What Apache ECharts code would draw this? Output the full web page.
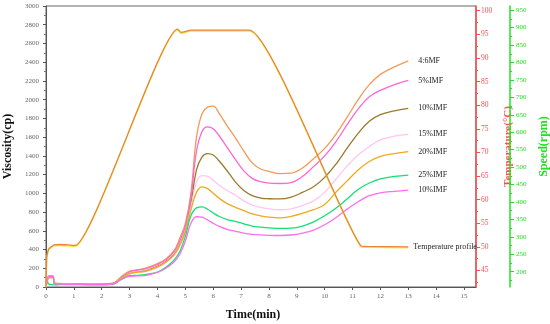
<!DOCTYPE html>
<html>
<head>
<meta charset="utf-8">
<script src="https://cdn.jsdelivr.net/npm/echarts@6/dist/echarts.min.js"></script>
<style>html,body{margin:0;padding:0;background:#fff}#c{width:550px;height:324px}</style>
</head>
<body>
<div id="c"></div>
<script>
// ---- data ----
var times = [0, 0.05, 0.1, 0.25, 0.3, 0.5, 1, 1.5, 2, 2.4, 2.7, 3, 3.3, 3.6, 4, 4.3, 4.6, 4.8, 5, 5.2, 5.4, 5.6, 5.8, 6, 6.2, 6.5, 6.8, 7.1, 7.4, 7.7, 8, 8.4, 8.8, 9.2, 9.6, 10, 10.4, 10.8, 11.2, 11.6, 12, 12.5, 13];
var mf46   = [0, 80, 110, 110, 45, 38, 35, 33, 33, 40, 110, 170, 185, 205, 250, 300, 390, 520, 680, 1000, 1600, 1850, 1920, 1930, 1860, 1720, 1590, 1450, 1325, 1260, 1235, 1210, 1215, 1270, 1370, 1480, 1630, 1810, 2000, 2160, 2270, 2350, 2415];
var imf5   = [0, 80, 115, 115, 40, 35, 32, 30, 30, 38, 100, 160, 180, 195, 240, 290, 380, 490, 650, 960, 1450, 1660, 1710, 1690, 1620, 1490, 1360, 1240, 1160, 1125, 1110, 1105, 1115, 1180, 1285, 1400, 1550, 1730, 1900, 2030, 2100, 2160, 2205];
var imf10a = [0, 70, 100, 100, 38, 33, 30, 28, 28, 35, 90, 140, 160, 175, 220, 270, 350, 450, 600, 880, 1250, 1390, 1425, 1410, 1350, 1240, 1120, 1030, 975, 950, 942, 940, 960, 1010, 1070, 1170, 1310, 1480, 1640, 1770, 1840, 1880, 1907];
var imf15  = [0, 70, 100, 100, 36, 32, 30, 28, 28, 34, 90, 140, 155, 170, 210, 260, 340, 440, 590, 850, 1120, 1190, 1180, 1140, 1090, 1030, 980, 920, 875, 850, 835, 825, 835, 870, 920, 1010, 1150, 1290, 1410, 1500, 1570, 1610, 1630];
var imf20  = [0, 70, 100, 100, 36, 32, 30, 28, 28, 34, 95, 145, 160, 170, 215, 265, 345, 445, 590, 820, 1010, 1070, 1050, 1000, 950, 890, 850, 815, 780, 760, 745, 738, 755, 785, 825, 880, 1010, 1130, 1250, 1340, 1395, 1425, 1445];
var imf25  = [0, 60, 30, 25, 22, 25, 25, 24, 24, 30, 80, 120, 125, 135, 160, 210, 290, 380, 540, 760, 845, 855, 830, 790, 755, 720, 700, 675, 650, 640, 632, 625, 628, 650, 695, 760, 840, 940, 1040, 1110, 1155, 1180, 1195];
var imf10b = [0, 80, 118, 118, 35, 30, 28, 26, 26, 32, 80, 115, 118, 125, 155, 200, 270, 350, 490, 680, 750, 745, 715, 680, 650, 615, 595, 575, 562, 556, 552, 550, 555, 575, 608, 665, 740, 830, 910, 975, 1005, 1022, 1035];
var tempTimes = [0, 0.03, 0.1, 0.3, 0.5, 0.8, 1.05, 4.72, 4.85, 5.2, 7.3, 11.3, 11.5, 13];
var tempVals  = [41.6, 48, 49.6, 50.4, 50.5, 50.4, 50.3, 96.1, 95.4, 95.9, 95.9, 50.2, 50.1, 50.0];
var xTicks = [0,1,2,3,4,5,6,7,8,9,10,11,12,13,14,15];
var tempTicks = [45,50,55,60,65,70,75,80,85,90,95,100];
var tempMinor = [42.5,47.5,52.5,57.5,62.5,67.5,72.5,77.5,82.5,87.5,92.5,97.5];
var speedTicks = [200,250,300,350,400,450,500,550,600,650,700,750,800,850,900,950];
var speedMinor = [175,225,275,325,375,425,475,525,575,625,675,725,775,825,875,925];

var seriesDefs = [
  {name:'4:6MF', data: mf46, color:'#F29A58'},
  {name:'5%IMF', data: imf5, color:'#FF66D6'},
  {name:'10%IMF', data: imf10a, color:'#9A7A28'},
  {name:'15%IMF', data: imf15, color:'#FFC6F2'},
  {name:'20%IMF', data: imf20, color:'#F0A820'},
  {name:'25%IMF', data: imf25, color:'#12E076'},
  {name:'10%IMF', data: imf10b, color:'#FF6EEA'}
];

var serif = 'Liberation Serif';
var RED = '#FF4D4D', GREEN = '#22E022';

var series = seriesDefs.map(function(s){
  return {
    type:'line', name:s.name, xAxisIndex:0, yAxisIndex:0, smooth:0.4, symbol:'none',
    lineStyle:{color:s.color, width:1.3},
    data: times.map(function(t,i){return [t, s.data[i]];}),
    endLabel:{show:true, formatter:'{a}', distance:10, fontFamily:serif, fontSize:8, color:'#222'}
  };
});
series.push({
  type:'line', name:'Temperature profile', xAxisIndex:0, yAxisIndex:1, smooth:0.15, symbol:'none',
  lineStyle:{color:'#E8833A', width:1.3, shadowColor:'rgba(240,230,40,0.9)', shadowOffsetY:1},
  data: tempTimes.map(function(t,i){return [t, tempVals[i]];}),
  endLabel:{show:true, formatter:'{a}', distance:5, fontFamily:serif, fontSize:8, color:'#222'}
});

var chart = echarts.init(document.getElementById('c'), null, {renderer:'canvas'});
chart.setOption({
  animation:false,
  grid:{left:46, right:74, top:6, bottom:37, show:true, borderColor:'#666', borderWidth:1, outerBoundsMode:'none', containLabel:false},
  title:{text:'Time(min)', left:248, top:304, textAlign:'center',
    textStyle:{fontFamily:serif, fontSize:12, fontWeight:'bold', color:'#111'}},
  xAxis:[{
    type:'value', min:0, max:15.43,
    axisLine:{lineStyle:{color:'#555', width:1}},
    axisTick:{customValues:xTicks, length:3, lineStyle:{color:'#555'}},
    axisLabel:{customValues:xTicks, fontFamily:serif, fontSize:7, color:'#666', margin:6},
    splitLine:{show:false}
  }],
  yAxis:[{
    type:'value', min:0, max:3000, interval:200, position:'left',
    name:'Viscosity(cp)', nameLocation:'middle', nameGap:32, nameRotate:90,
    nameTextStyle:{fontFamily:serif, fontSize:12, fontWeight:'bold', color:'#111'},
    axisLine:{show:true, lineStyle:{color:'#555'}},
    axisTick:{show:true, length:3, lineStyle:{color:'#555'}},
    minorTick:{show:true, splitNumber:2, length:2, lineStyle:{color:'#777'}},
    axisLabel:{fontFamily:serif, fontSize:7, color:'#666', margin:7, formatter:function(v){return String(v);}},
    splitLine:{show:false}
  },{
    type:'value', min:41.5, max:101, position:'right', offset:0,
    name:'Temperature(°C)', nameLocation:'middle', nameGap:25, nameRotate:90,
    nameTextStyle:{fontFamily:serif, fontSize:11, fontWeight:'bold', color:RED},
    axisLine:{show:true, lineStyle:{color:RED, width:1.5}},
    axisTick:{show:true, customValues:tempTicks, length:4, lineStyle:{color:RED}},
    axisLabel:{customValues:tempTicks, fontFamily:serif, fontSize:7.5, color:RED, margin:5},
    splitLine:{show:false}
  },{
    type:'value', min:156, max:962, position:'right', offset:34,
    name:'Speed(rpm)', nameLocation:'middle', nameGap:28, nameRotate:90,
    nameTextStyle:{fontFamily:serif, fontSize:12, fontWeight:'bold', color:GREEN},
    axisLine:{show:true, lineStyle:{color:GREEN, width:1.5}},
    axisTick:{show:true, customValues:speedTicks, length:4, lineStyle:{color:GREEN}},
    axisLabel:{customValues:speedTicks, fontFamily:serif, fontSize:7, color:GREEN, margin:6},
    splitLine:{show:false}
  },{
    type:'value', min:41.5, max:101, position:'right', offset:0,
    axisLine:{show:false},
    axisTick:{show:true, customValues:tempMinor, length:2, lineStyle:{color:RED}},
    axisLabel:{show:false}, splitLine:{show:false}
  },{
    type:'value', min:156, max:962, position:'right', offset:34,
    axisLine:{show:false},
    axisTick:{show:true, customValues:speedMinor, length:2, lineStyle:{color:GREEN}},
    axisLabel:{show:false}, splitLine:{show:false}
  }],
  series: series
});
</script>
</body>
</html>
